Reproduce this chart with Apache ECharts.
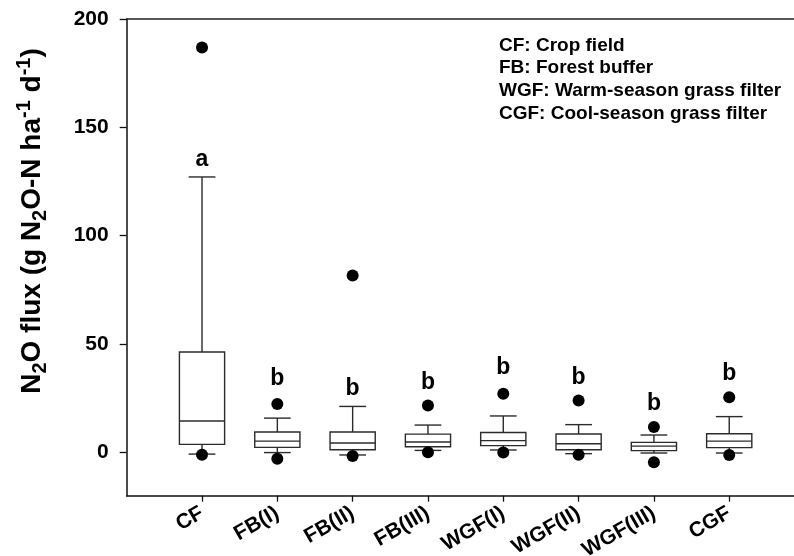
<!DOCTYPE html>
<html>
<head>
<meta charset="utf-8">
<script src="https://cdn.jsdelivr.net/npm/echarts@6.0.0/dist/echarts.min.js"></script>
<style>
html, body { margin: 0; padding: 0; background: #fff; }
#main { width: 794px; height: 556px; }
</style>
</head>
<body>
<div id="main"></div>
<script>
var categories = ['CF', 'FB(I)', 'FB(II)', 'FB(III)', 'WGF(I)', 'WGF(II)', 'WGF(III)', 'CGF'];
var whiskerLow = [-0.8, -0.1, -1.2, 0.9, 1.1, -0.6, -0.3, -0.3];
var q1 = [3.7, 2.3, 1.2, 2.6, 3.1, 1.2, 0.8, 2.2];
var median = [14.5, 5.2, 4.3, 4.8, 5.4, 4.0, 2.9, 5.2];
var q3 = [46.3, 9.4, 9.4, 8.4, 9.2, 8.5, 4.6, 8.6];
var whiskerHigh = [127.1, 15.8, 21.2, 12.6, 16.8, 12.8, 8.0, 16.5];
var outlierHigh = [186.8, 22.3, 81.6, 21.6, 27.1, 23.9, 11.7, 25.4];
var outlierLow = [-1.1, -3.0, -1.7, 0.1, -0.1, -1.1, -4.6, -1.2];
var letters = ['a', 'b', 'b', 'b', 'b', 'b', 'b', 'b'];
var letterY = [135.1, 34.0, 29.4, 32.0, 39.1, 34.5, 22.5, 36.3];
var yTicks = [0, 50, 100, 150, 200];
var xTicks = [1, 2, 3, 4, 5, 6, 7, 8];
var legendLines = ['CF: Crop field', 'FB: Forest buffer', 'WGF: Warm-season grass filter', 'CGF: Cool-season grass filter'];

var font = 'Liberation Sans, Arial, sans-serif';
var lineColor = '#2b2b2b';

var boxData = [];
var outlierData = [];
var letterData = [];
for (var i = 0, len = categories.length; i < len; i++) {
	boxData.push([i + 1, whiskerLow[i], q1[i], median[i], q3[i], whiskerHigh[i]]);
	outlierData.push([i + 1, outlierHigh[i]]);
	outlierData.push([i + 1, outlierLow[i]]);
	letterData.push([i + 1, letterY[i]]);
}

function renderBox(params, api) {
	var x = api.value(0);
	var pLow = api.coord([x, api.value(1)]);
	var pQ1 = api.coord([x, api.value(2)]);
	var pMed = api.coord([x, api.value(3)]);
	var pQ3 = api.coord([x, api.value(4)]);
	var pHigh = api.coord([x, api.value(5)]);
	var half = api.size([0.6, 0])[0] / 2;
	var capHalf = api.size([0.355, 0])[0] / 2;
	var cx = pMed[0];
	var st = { stroke: lineColor, lineWidth: 1.4 };
	return {
		type: 'group',
		children: [
			{ type: 'line', shape: { x1: cx, y1: pQ3[1], x2: cx, y2: pHigh[1] }, style: st },
			{ type: 'line', shape: { x1: cx - capHalf, y1: pHigh[1], x2: cx + capHalf, y2: pHigh[1] }, style: st },
			{ type: 'line', shape: { x1: cx, y1: pQ1[1], x2: cx, y2: pLow[1] }, style: st },
			{ type: 'line', shape: { x1: cx - capHalf, y1: pLow[1], x2: cx + capHalf, y2: pLow[1] }, style: st },
			{ type: 'rect', shape: { x: cx - half, y: pQ3[1], width: half * 2, height: pQ1[1] - pQ3[1] },
				style: { fill: '#fff', stroke: lineColor, lineWidth: 1.4 } },
			{ type: 'line', shape: { x1: cx - half, y1: pMed[1], x2: cx + half, y2: pMed[1] }, style: st }
		]
	};
}

var chart = echarts.init(document.getElementById('main'));

var option = {
	animation: false,
	backgroundColor: '#fff',
	grid: { left: 126.7, top: 19, right: 0, bottom: 60.3, containLabel: false, outerBoundsMode: 'none' },
	xAxis: [{
		type: 'value',
		min: 0,
		max: 8.86,
		splitLine: { show: false },
		axisLine: { show: true, onZero: false, lineStyle: { color: '#111', width: 1.5 } },
		axisTick: { show: true, customValues: xTicks, length: 6, lineStyle: { color: '#111', width: 1.3 } },
		axisLabel: {
			customValues: xTicks,
			rotate: 30,
			margin: 16,
			fontFamily: font,
			fontWeight: 'bold',
			fontSize: 21,
			color: '#000',
			formatter: function (v) { return categories[Math.round(v) - 1] || ''; }
		}
	}, {
		type: 'value',
		position: 'top',
		min: 0,
		max: 8.86,
		splitLine: { show: false },
		axisLine: { show: true, onZero: false, lineStyle: { color: '#222', width: 1.5 } },
		axisTick: { show: false },
		axisLabel: { show: false }
	}],
	yAxis: {
		type: 'value',
		min: -20,
		max: 200,
		splitLine: { show: false },
		axisLine: { show: true, onZero: false, lineStyle: { color: '#111', width: 1.5 } },
		axisTick: { show: true, customValues: yTicks, length: 7, lineStyle: { color: '#111', width: 1.3 } },
		axisLabel: {
			customValues: yTicks,
			margin: 18,
			fontFamily: font,
			fontWeight: 'bold',
			fontSize: 21,
			color: '#000'
		}
	},
	graphic: [{
		type: 'text',
		x: 32,
		y: 221,
		rotation: Math.PI / 2,
		style: {
			text: '{m|N}{s|2}{m|O flux (g N}{s|2}{m|O-N ha}{p|-1}{m| d}{p|-1}{m|)}',
			align: 'center',
			verticalAlign: 'middle',
			rich: {
				m: { fontFamily: font, fontWeight: 'bold', fontSize: 28, lineHeight: 36, verticalAlign: 'middle', fill: '#000' },
				s: { fontFamily: font, fontWeight: 'bold', fontSize: 20, lineHeight: 20, verticalAlign: 'bottom', fill: '#000' },
				p: { fontFamily: font, fontWeight: 'bold', fontSize: 20, lineHeight: 20, verticalAlign: 'top', fill: '#000' }
			}
		}
	}, {
		type: 'text',
		x: 499,
		y: 34,
		style: {
			text: legendLines.join('\n'),
			fontFamily: font,
			fontWeight: 'bold',
			fontSize: 19,
			lineHeight: 22.7,
			fill: '#000',
			align: 'left',
			verticalAlign: 'top'
		}
	}],
	series: [{
		type: 'custom',
		renderItem: renderBox,
		data: boxData,
		encode: { x: 0, y: [1, 2, 3, 4, 5] },
		z: 2
	}, {
		type: 'scatter',
		data: outlierData,
		symbol: 'circle',
		symbolSize: 12,
		itemStyle: { color: '#000', opacity: 1 },
		z: 3
	}, {
		type: 'scatter',
		data: letterData,
		symbolSize: 1,
		itemStyle: { color: 'rgba(0,0,0,0)', opacity: 1 },
		label: {
			show: true,
			position: 'inside',
			fontFamily: font,
			fontWeight: 'bold',
			fontSize: 23,
			color: '#000',
			textBorderWidth: 0,
			formatter: function (p) { return letters[p.dataIndex]; }
		},
		z: 4
	}]
};

chart.setOption(option);
</script>
</body>
</html>
